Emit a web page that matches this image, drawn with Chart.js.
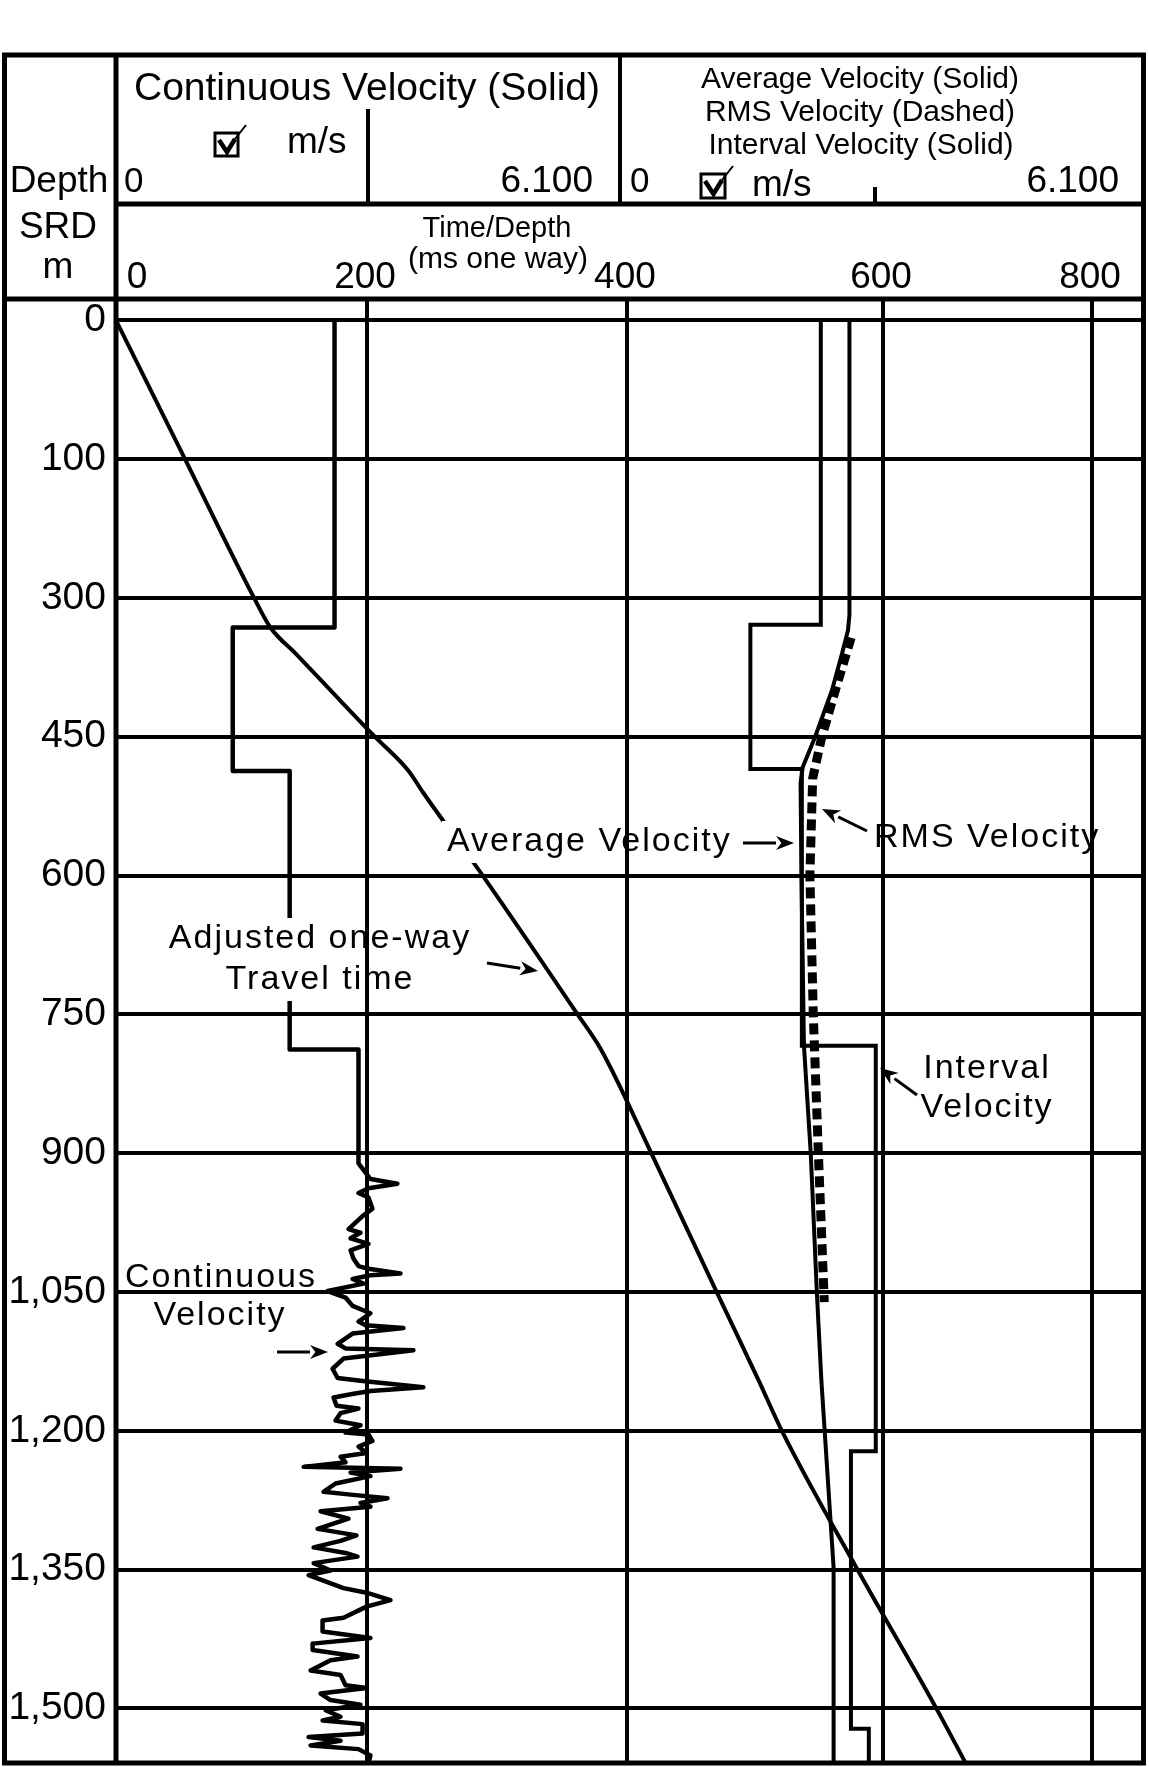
<!DOCTYPE html>
<html lang="en">
<head>
  <meta charset="UTF-8">
  <title>Velocity survey - time/depth log</title>
  <script src="https://cdn.jsdelivr.net/npm/chart.js"></script>
  <style>
    html, body { margin: 0; padding: 0; background: #fff; }
    #wrap { width: 1149px; height: 1767px; }
  </style>
</head>
<body>
  <div id="wrap"><canvas id="log" width="1149" height="1767"></canvas></div>

  <script>
    // depth axis (m, SRD) - the printed second label reads "100"
    const depthTicks = [0, 150, 300, 450, 600, 750, 900, 1050, 1200, 1350, 1500];
    const depthLabels = ['0', '100', '300', '450', '600', '750', '900', '1,050', '1,200', '1,350', '1,500'];

    // time axis (ms one way)
    const timeTicks = [0, 200, 400, 600, 800];
    const timeLabels = ['0', '200', '400', '600', '800'];

    // adjusted one-way travel time
    const ttDepth = [0, 150, 300, 332, 360, 400, 450, 487, 510, 600, 750, 788, 900, 1050, 1146, 1200, 1350, 1500, 1559];
    const ttTime  = [0, 55, 110, 123, 143, 171, 206, 232, 243, 289, 362, 380, 419, 470, 503, 521, 580, 651, 679];

    // continuous velocity (m/s), track 1
    const cvDepth = [0, 332, 332, 487, 487, 788, 788, 911,
      928, 933, 938, 943, 948, 960, 968, 982, 986, 992, 998, 1005, 1014, 1022, 1025, 1030, 1032, 1036, 1041, 1049,
      1056, 1065, 1073, 1082, 1086, 1089, 1095, 1106, 1111, 1113, 1122, 1133, 1143, 1146, 1153, 1157, 1160, 1164,
      1173, 1176, 1181, 1189, 1194, 1202, 1204, 1211, 1217, 1224, 1228, 1234, 1239, 1241, 1245, 1249, 1257, 1266,
      1269, 1273, 1278, 1282, 1287, 1295, 1306, 1313, 1319, 1326, 1332, 1336, 1343, 1351, 1356, 1370, 1375, 1383,
      1390, 1402, 1405, 1417, 1424, 1430, 1437, 1444, 1448, 1459, 1464, 1475, 1478, 1484, 1491, 1496, 1502, 1509,
      1513, 1517, 1527, 1531, 1535, 1540, 1544, 1551, 1558];
    const cvVel = [2645, 2645, 1413, 1413, 2102, 2102, 2935, 2935,
      3080, 3406, 3056, 2935, 3056, 3104, 2984, 2814, 2959, 2839, 3056, 2839, 2875, 2935, 3056, 3443, 3080, 2863, 2996, 2561,
      2778, 2863, 3080, 2935, 3020, 3479, 2863, 2682, 2778, 3600, 2754, 2621, 2682, 2959, 3720, 3080, 2875, 2633,
      2669, 2935, 2718, 2657, 2959, 2778, 3056, 3104, 2935, 3032, 2718, 2778, 2271, 3443, 2839, 3080, 2657, 2512,
      2839, 3286, 2959, 3080, 2476, 2814, 2440, 2911, 2718, 2392, 2778, 2923, 2392, 2597, 2331, 2754, 3032, 3322,
      3032, 2754, 2500, 2500, 3080, 2380, 2380, 2923, 2597, 2355, 2718, 2778, 3032, 2476, 2597, 2959, 2537, 2718,
      2500, 2984, 2984, 2331, 2718, 2355, 2935, 3080, 3056];

    // interval velocity (m/s), track 2
    const ivDepth = [0, 329, 329, 485, 485, 784, 784, 1222, 1222, 1522, 1522, 1559];
    const ivVel   = [2289, 2289, 1457, 1457, 2065, 2065, 2938, 2938, 2645, 2645, 2856, 2856];

    // average velocity (m/s), track 2
    const avDepth = [0, 318, 335, 360, 400, 452, 483, 500, 600, 784, 900, 1050, 1146, 1348, 1559];
    const avVel   = [2627, 2627, 2610, 2540, 2420, 2214, 2075, 2050, 2060, 2090, 2170, 2242, 2296, 2440, 2440];

    // rms velocity (m/s), track 2
    const rmsDepth = [343, 400, 452, 495, 600, 750, 900, 1061];
    const rmsVel   = [2647, 2460, 2296, 2193, 2160, 2200, 2260, 2330];

    const FONT = '"Liberation Sans", Arial, Helvetica, sans-serif';
    Chart.defaults.font.family = FONT;
    Chart.defaults.color = '#000';

    // the printed time grid is not evenly spaced (the 800 line sits closer),
    // so the time scale follows the printed grid piece by piece
    const timeKnots = [0, 200, 400, 600, 800, 849];
    const timeKnotShare = [0, 0.2443, 0.4973, 0.7465, 0.9499, 1];

    class PrintedTimeScale extends Chart.LinearScale {
      toShare(v) {
        let i = 1;
        while (i < timeKnots.length - 1 && v > timeKnots[i]) i++;
        const v0 = timeKnots[i - 1], v1 = timeKnots[i];
        const f0 = timeKnotShare[i - 1], f1 = timeKnotShare[i];
        return f0 + (v - v0) / (v1 - v0) * (f1 - f0);
      }
      getPixelForValue(v) {
        if (v === null || isNaN(v)) return NaN;
        return this.getPixelForDecimal(this.toShare(v));
      }
      getValueForPixel(p) {
        const s = this.getDecimalForPixel(p);
        let i = 1;
        while (i < timeKnotShare.length - 1 && s > timeKnotShare[i]) i++;
        const f0 = timeKnotShare[i - 1], f1 = timeKnotShare[i];
        return timeKnots[i - 1] + (s - f0) / (f1 - f0) * (timeKnots[i] - timeKnots[i - 1]);
      }
    }
    PrintedTimeScale.id = 'printedTime';
    Chart.register(PrintedTimeScale);

    function pts(depth, vals) {
      const n = Math.min(depth.length, vals.length);
      const out = [];
      for (let i = 0; i < n; i++) out.push({ x: vals[i], y: depth[i] });
      return out;
    }

    function line(data, axis, extra) {
      return Object.assign({
        data: data, xAxisID: axis, yAxisID: 'y', showLine: true,
        borderColor: '#000', borderWidth: 4, pointRadius: 0, tension: 0,
        borderJoinStyle: 'round', fill: false
      }, extra || {});
    }

    function text(ctx, s, x, y, size, align, spacing) {
      ctx.font = size + 'px ' + FONT;
      ctx.textAlign = align || 'left';
      ctx.textBaseline = 'alphabetic';
      ctx.letterSpacing = (spacing || 0) + 'px';
      ctx.fillText(s, x, y);
      ctx.letterSpacing = '0px';
    }

    function seg(ctx, x1, y1, x2, y2, w) {
      ctx.lineWidth = w;
      ctx.beginPath();
      ctx.moveTo(x1, y1);
      ctx.lineTo(x2, y2);
      ctx.stroke();
    }

    function arrow(ctx, a) {
      const [x1, y1, x2, y2] = a;
      const ang = Math.atan2(y2 - y1, x2 - x1);
      const L = 18, W = 7;
      const bx = x2 - L * Math.cos(ang), by = y2 - L * Math.sin(ang);
      seg(ctx, x1, y1, bx, by, 3);
      ctx.beginPath();
      ctx.moveTo(x2, y2);
      ctx.lineTo(bx + W * Math.sin(ang), by - W * Math.cos(ang));
      ctx.lineTo(bx + L * 0.3 * Math.cos(ang), by + L * 0.3 * Math.sin(ang));
      ctx.lineTo(bx - W * Math.sin(ang), by + W * Math.cos(ang));
      ctx.closePath();
      ctx.fill();
    }

    function checkbox(ctx, x, y, s) {
      ctx.lineWidth = 3;
      ctx.strokeRect(x, y, s, s);
      ctx.lineJoin = 'miter';
      ctx.lineWidth = 4.5;
      ctx.beginPath();
      ctx.moveTo(x + 4, y + 7);
      ctx.lineTo(x + s * 0.52, y + s - 4);
      ctx.lineTo(x + s - 3, y + 6);
      ctx.stroke();
      seg(ctx, x + s - 3, y + 6, x + s + 8, y - 8, 2);
    }

    // header labels: text, x, baseline, size, align
    const headerText = [
      ['Depth', 59, 192, 37, 'center'],
      ['SRD', 58, 238, 37, 'center'],
      ['m', 58, 278, 37, 'center'],
      ['Continuous Velocity (Solid)', 367, 100, 39, 'center'],
      ['m/s', 287, 153, 37, 'left'],
      ['0', 124, 192, 35, 'left'],
      ['6.100', 593, 192, 37, 'right'],
      ['Average Velocity (Solid)', 860, 88, 30, 'center'],
      ['RMS Velocity (Dashed)', 860, 121, 30, 'center'],
      ['Interval Velocity (Solid)', 861, 154, 30, 'center'],
      ['0', 630, 192, 35, 'left'],
      ['m/s', 752, 196, 37, 'left'],
      ['6.100', 1119, 192, 37, 'right'],
      ['Time/Depth', 497, 237, 29, 'center'],
      ['(ms one way)', 498, 268, 30, 'center']
    ];

    // labels inside the log: lines [text, x, baseline], align, arrow [x1,y1,x2,y2]
    const notes = [
      { lines: [['Average Velocity', 447, 851]], align: 'left', arrow: [743, 843, 794, 843] },
      { lines: [['RMS Velocity', 874, 847]], align: 'left', arrow: [867, 831, 822, 809] },
      { lines: [['Adjusted one-way', 320, 948], ['Travel time', 320, 989]], align: 'center', arrow: [487, 963, 538, 971] },
      { lines: [['Interval', 987, 1078], ['Velocity', 987, 1117]], align: 'center', arrow: [917, 1095, 880, 1068] },
      { lines: [['Continuous', 221, 1287], ['Velocity', 220, 1325]], align: 'center', arrow: [277, 1352, 328, 1352] }
    ];
    const NOTE_SIZE = 34, NOTE_SPACING = 2;

    function noteBox(ctx, n) {
      let x0 = Infinity, x1 = -Infinity, y0 = Infinity, y1 = -Infinity;
      ctx.font = NOTE_SIZE + 'px ' + FONT;
      ctx.letterSpacing = NOTE_SPACING + 'px';
      n.lines.forEach(([s, x, y]) => {
        const w = ctx.measureText(s).width;
        const left = n.align === 'center' ? x - w / 2 : x;
        x0 = Math.min(x0, left); x1 = Math.max(x1, left + w);
        y0 = Math.min(y0, y - 25); y1 = Math.max(y1, y + 7);
      });
      ctx.letterSpacing = '0px';
      return [x0 - 5, y0 - 5, x1 - x0 + 10, y1 - y0 + 10];
    }

    const logFrame = {
      id: 'logFrame',
      beforeDatasetsDraw(chart) {
        // keep the curves from running through the labels
        const ctx = chart.ctx;
        ctx.save();
        ctx.beginPath();
        ctx.rect(0, 0, chart.width, chart.height);
        notes.forEach(n => { const b = noteBox(ctx, n); ctx.rect(b[0], b[1], b[2], b[3]); });
        ctx.clip('evenodd');
      },
      afterDatasetsDraw(chart) {
        chart.ctx.restore();
      },
      afterDraw(chart) {
        const ctx = chart.ctx;
        const a = chart.chartArea;
        const xT = chart.scales.xTime;
        const xV1 = chart.scales.xVel1;
        const top = 55, row1 = 204;
        ctx.save();
        ctx.strokeStyle = '#000';
        ctx.fillStyle = '#000';
        ctx.lineCap = 'butt';

        // outer frame and header rows
        ctx.lineWidth = 5;
        ctx.strokeRect(4.5, top, a.right - 4.5, a.bottom - top);
        seg(ctx, a.left, top, a.left, a.bottom, 5);
        seg(ctx, a.left, row1, a.right, row1, 5);
        seg(ctx, 4.5, a.top, a.right, a.top, 5);
        const trackEdge = xV1.getPixelForValue(6100);
        seg(ctx, trackEdge, top, trackEdge, row1, 4);
        seg(ctx, xV1.getPixelForValue(3050), 109, xV1.getPixelForValue(3050), row1, 4);
        seg(ctx, 875, 187, 875, row1, 4);

        headerText.forEach(([s, x, y, size, align]) => text(ctx, s, x, y, size, align));
        checkbox(ctx, 215, 133, 23);
        checkbox(ctx, 701, 174, 24);

        timeTicks.forEach((v, i) => {
          const x = v === 0 ? a.left + 21 : xT.getPixelForValue(v) - 2;
          text(ctx, timeLabels[i], x, 288, 37, 'center');
        });

        notes.forEach(n => {
          n.lines.forEach(([s, x, y]) => text(ctx, s, x, y, NOTE_SIZE, n.align, NOTE_SPACING));
          arrow(ctx, n.arrow);
        });
        ctx.restore();
      }
    };

    const gridStyle = { color: '#000', lineWidth: 4, drawTicks: false };

    new Chart(document.getElementById('log'), {
      type: 'scatter',
      data: {
        datasets: [
          line(pts(ttDepth, ttTime), 'xTime', { cubicInterpolationMode: 'monotone' }),
          line(pts(cvDepth, cvVel), 'xVel1', { borderWidth: 4.5 }),
          line(pts(ivDepth, ivVel), 'xVel2', { borderJoinStyle: 'miter' }),
          line(pts(avDepth, avVel), 'xVel2'),
          line(pts(rmsDepth, rmsVel), 'xVel2', { borderWidth: 9, borderDash: [11, 6], borderCapStyle: 'butt', borderJoinStyle: 'miter' })
        ]
      },
      options: {
        responsive: false,
        animation: false,
        devicePixelRatio: 1,
        layout: { autoPadding: false, padding: { top: 299, right: 5.5, bottom: 4, left: 0 } },
        plugins: { legend: { display: false }, tooltip: { enabled: false } },
        scales: {
          xTime: {
            type: 'printedTime', axis: 'x', position: 'top', min: 0, max: 849,
            afterBuildTicks: s => { s.ticks = timeTicks.map(v => ({ value: v })); },
            afterFit: s => { s.height = 0; s.paddingLeft = 0; s.paddingRight = 0; },
            ticks: { display: false },
            grid: gridStyle,
            border: { display: false }
          },
          xVel1: {
            type: 'linear', axis: 'x', display: false, min: 0, max: 12436
          },
          xVel2: {
            type: 'linear', axis: 'x', display: false, min: -6035, max: 6100
          },
          y: {
            type: 'linear', position: 'left', reverse: true, min: -23, max: 1559,
            afterBuildTicks: s => { s.ticks = depthTicks.map(v => ({ value: v })); },
            afterFit: s => { s.width = 116; s.paddingTop = 0; s.paddingBottom = 0; },
            ticks: {
              callback: (v, i) => depthLabels[i],
              font: { size: 39 },
              color: '#000',
              padding: 10
            },
            grid: gridStyle,
            border: { display: false }
          }
        }
      },
      plugins: [logFrame]
    });
  </script>
</body>
</html>
